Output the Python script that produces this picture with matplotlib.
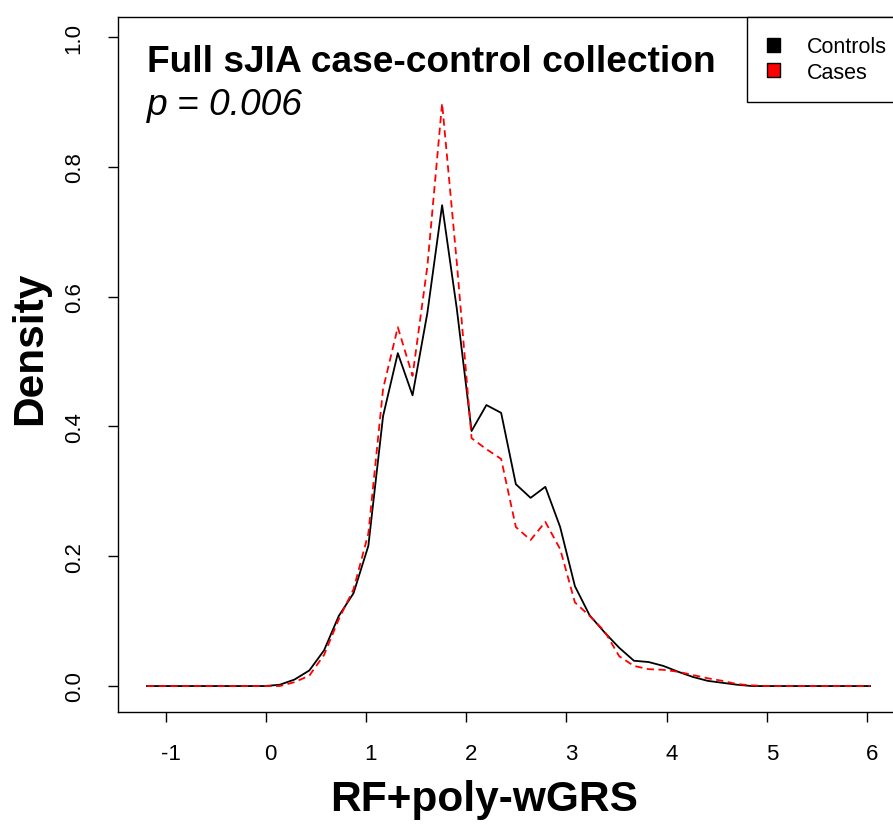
import matplotlib
matplotlib.use("Agg")
import matplotlib.pyplot as plt
import matplotlib.transforms as mtransforms
from matplotlib.patches import Patch

plt.rcParams['font.family'] = ['Liberation Sans', 'DejaVu Sans']

# grid of score values (x) and the two density curves
score = [-1.185, -1.038, -0.891, -0.743, -0.596, -0.449, -0.302, -0.154, -0.007, 0.140,
         0.287, 0.435, 0.582, 0.729, 0.876, 1.024, 1.171, 1.318, 1.465, 1.613,
         1.760, 1.907, 2.054, 2.202, 2.349, 2.496, 2.643, 2.790, 2.938, 3.085,
         3.232, 3.379, 3.527, 3.674, 3.821, 3.968, 4.116, 4.263, 4.410, 4.557,
         4.705, 4.852, 4.999, 5.146, 5.294, 5.441, 5.588, 5.735, 5.883, 6.030]

controls = [0, 0, 0, 0, 0, 0, 0, 0, 0.000, 0.002,
            0.010, 0.024, 0.055, 0.108, 0.143, 0.216, 0.416, 0.513, 0.448, 0.575,
            0.741, 0.581, 0.393, 0.433, 0.421, 0.311, 0.290, 0.307, 0.245, 0.154,
            0.109, 0.083, 0.059, 0.039, 0.037, 0.031, 0.022, 0.014, 0.008, 0.005,
            0.002, 0, 0, 0, 0, 0, 0, 0, 0, 0]

cases = [0, 0, 0, 0, 0, 0, 0, 0, 0, 0,
         0.006, 0.016, 0.048, 0.103, 0.149, 0.235, 0.458, 0.553, 0.478, 0.647,
         0.898, 0.652, 0.382, 0.365, 0.350, 0.245, 0.225, 0.253, 0.211, 0.129,
         0.108, 0.085, 0.046, 0.031, 0.026, 0.025, 0.022, 0.017, 0.012, 0.008,
         0.003, 0.001, 0, 0, 0, 0, 0, 0, 0, 0]

xticks = [-1, 0, 1, 2, 3, 4, 5, 6]
yticks = [0.0, 0.2, 0.4, 0.6, 0.8, 1.0]

W, H = 893, 828
fig = plt.figure(figsize=(W / 100, H / 100), dpi=100)
# plot region in pixels: left 118, right 899 (cropped), top 18, bottom 713
ax = fig.add_axes([118 / W, (H - 713) / H, (899 - 118) / W, (713 - 18) / H])

ax.plot(score, controls, color='black', lw=1.3)
ax.plot(score, cases, color='red', lw=1.3, ls='--', dashes=(4, 2.5))

ax.set_xlim(-1.474, 6.319)
ax.set_ylim(-0.04, 1.031)

ax.set_xticks(xticks)
ax.set_xticklabels([str(t) for t in xticks])
ax.set_yticks(yticks)
ax.set_yticklabels(['%.1f' % t for t in yticks])
ax.tick_params(axis='both', direction='out', length=7, width=1.0, labelsize=16)
ax.tick_params(axis='x', pad=15)
ax.tick_params(axis='y', pad=17)
for lab in ax.get_yticklabels():
    lab.set_rotation(90)
    lab.set_va('center')
shift = mtransforms.ScaledTranslation(0.05, 0, fig.dpi_scale_trans)
for lab in ax.get_xticklabels():
    lab.set_transform(lab.get_transform() + shift)

for sp in ax.spines.values():
    sp.set_linewidth(1.0)

fig.text(484 / W, 1 - 800 / H, 'RF+poly-wGRS', fontsize=30.5, fontweight='bold',
         ha='center', va='center')
fig.text(30 / W, 1 - 348 / H, 'Density', fontsize=30.5, fontweight='bold',
         rotation=90, ha='center', va='center')

ax.text(-1.185, 0.948, 'Full sJIA case-control collection', fontsize=26.7,
        fontweight='bold', ha='left', va='baseline')
ax.text(-1.185, 0.881, 'p = 0.006', fontsize=26.7, style='italic',
        ha='left', va='baseline')

handles = [Patch(facecolor='black', edgecolor='black', label='Controls'),
           Patch(facecolor='red', edgecolor='black', label='Cases')]
leg = ax.legend(handles=handles, loc='upper right', bbox_to_anchor=(1.009, 1.0),
                fontsize=15.5, frameon=True, fancybox=False, edgecolor='black',
                framealpha=1, borderaxespad=0, borderpad=0.9, handlelength=0.6,
                handleheight=0.6, handletextpad=1.25, labelspacing=0.2)
leg.get_frame().set_linewidth(1.0)

fig.savefig('out.png', dpi=100)
